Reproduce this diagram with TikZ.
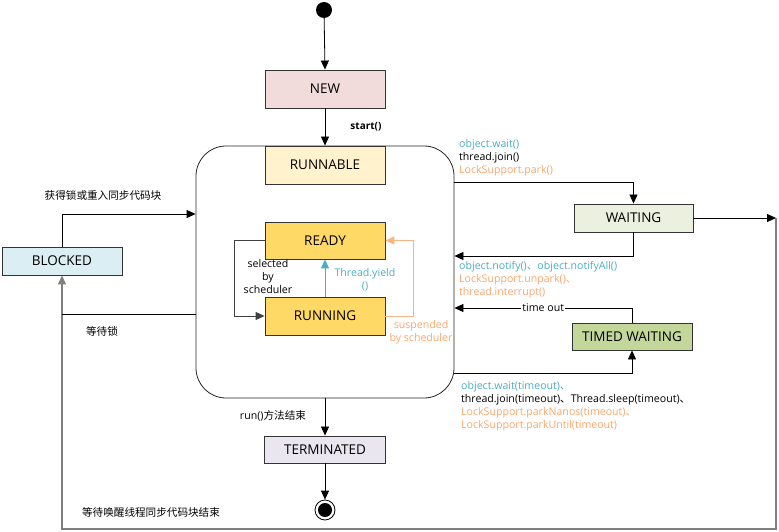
\documentclass[tikz,border=0pt]{standalone}
\usepackage{fontspec}
\setmainfont{Open Sans}
\newfontfamily\cjk{Noto Sans CJK SC}
\usetikzlibrary{arrows.meta,calc}
\definecolor{blueT}{HTML}{4BACC6}
\definecolor{orangeT}{HTML}{F9A66C}
\definecolor{cNew}{HTML}{F2DCDB}
\definecolor{cRunnable}{HTML}{FFF2CC}
\definecolor{cReady}{HTML}{FFD966}
\definecolor{cWait}{HTML}{EBF1DE}
\definecolor{cTimed}{HTML}{C4D79B}
\definecolor{cBlocked}{HTML}{DAEEF3}
\definecolor{cTerm}{HTML}{E9E6EF}
\definecolor{lineGray}{HTML}{808080}
\begin{document}
\begin{tikzpicture}[x=1pt,y=-1pt,
  st/.style={draw=black!80, line width=0.9pt, minimum width=120pt, minimum height=38pt, inner sep=0pt, font=\fontsize{13.5}{15}\selectfont},
  lab/.style={font=\fontsize{10.6}{13}\selectfont, inner sep=0pt},
  cn/.style={font=\cjk\fontsize{10.6}{13}\selectfont, inner sep=0pt},
  arr/.style={-{Triangle[length=9pt,width=8pt]}, line width=0.8pt},
]
\useasboundingbox (0,0) rectangle (779,532);
% nodes
\node[circle, fill=black, minimum size=16pt, inner sep=0pt] (init) at (324,10) {};
\node[st, fill=cNew] (new) at (325,89) {NEW};
\node[draw=black!85, line width=0.8pt, rounded corners=30pt, minimum width=258pt, minimum height=252pt, inner sep=0pt] (big) at (325,272) {};
\node[st, fill=cRunnable] (runnable) at (325,165) {RUNNABLE};
\node[st, fill=cReady, minimum height=37pt] (ready) at (325,240.5) {READY};
\node[st, fill=cReady] (running) at (325,316) {RUNNING};
\node[st, fill=cWait, minimum width=119pt, minimum height=28pt] (waiting) at (633.5,218) {WAITING};
\node[st, fill=cTimed, minimum height=27pt] (timed) at (632,336.5) {TIMED WAITING};
\node[st, fill=cBlocked, minimum height=28pt] (blocked) at (62,261) {BLOCKED};
\node[st, fill=cTerm, minimum width=121pt, minimum height=27pt] (term) at (325,449.5) {TERMINATED};
\node[circle, draw=black, line width=0.8pt, minimum size=20pt, inner sep=0pt] (final) at (325,510) {};
\node[circle, fill=black, minimum size=14pt, inner sep=0pt] (finalin) at (325,510) {};
\coordinate (R) at (776,218);
\coordinate (RB) at (776,529);
% connectors
\draw[arr] (init) -- (new.north);
\draw[arr] (new.south) -- (runnable.north);
\node[lab, font=\fontsize{10}{12}\selectfont\bfseries] (startl) at (366,127) {start()};
\draw[arr] (big.east |- 0,182) -| (waiting.north);
\draw[arr] (waiting.south) |- (big.east |- 0,256);
\draw[arr] (timed.north) |- node[pos=0.75, fill=white, lab, inner xsep=1pt] (tol) {time out} (big.east |- 0,308);
\draw[arr] (big.east |- 0,373) -| (timed.south);
\draw[arr] (waiting.east) -- (R);
\draw[arr, draw=lineGray, line width=1.3pt] (R) -- (RB) -| (blocked.south);
\draw[arr] (blocked.north) |- (big.west |- 0,214);
\draw[line width=0.8pt] (big.west |- 0,314) -- (blocked.south |- 0,314);
\draw[arr, draw=black!75, line width=1pt] (ready.west) -- ++(-30,0) |- (running.west);
\draw[arr, draw=blueT, line width=1pt] (running.north) -- (ready.south);
\draw[arr, draw=orangeT!85, line width=1pt] (running.east) -- ++(28,0) |- (ready.east);
\draw[arr] (big.south) -- (term.north);
\draw[arr] (term.south) -- (final.north);
% labels
\node[cn] (l1) at (103,195) {获得锁或重入同步代码块};
\node[cn] (l2) at (102,331) {等待锁};
\node[cn] (l3) at (151,512) {等待唤醒线程同步代码块结束};
\node[lab] (l4) at (273,416) {run()\cjk 方法结束};
\node[lab, align=center] (l5) at (268,277) {selected\\by\\scheduler};
\node[lab, align=center, text=blueT] (l6) at (365,280) {Thread.yield\\()};
\node[lab, align=center, text=orangeT] (l7) at (421,332.5) {suspended\\by scheduler};
\node[lab, align=left, anchor=north west] (l8) at (459,139) {\textcolor{blueT}{object.wait()}\\thread.join()\\\textcolor{orangeT}{LockSupport.park()}};
\node[lab, align=left, anchor=north west] (l9) at (459,261) {\textcolor{blueT}{object.notify()\cjk 、\normalfont object.notifyAll()}\\\textcolor{orangeT}{LockSupport.unpark()\cjk 、}\\\textcolor{orangeT}{thread.interrupt()}};
\node[lab, align=left, anchor=north west] (l10) at (461,381) {\textcolor{blueT}{object.wait(timeout)\cjk 、}\\thread.join(timeout)\cjk 、\normalfont Thread.sleep(timeout)\cjk 、\\\textcolor{orangeT}{LockSupport.parkNanos(timeout)\cjk 、}\\\textcolor{orangeT}{LockSupport.parkUntil(timeout)}};
\end{tikzpicture}
\end{document}
